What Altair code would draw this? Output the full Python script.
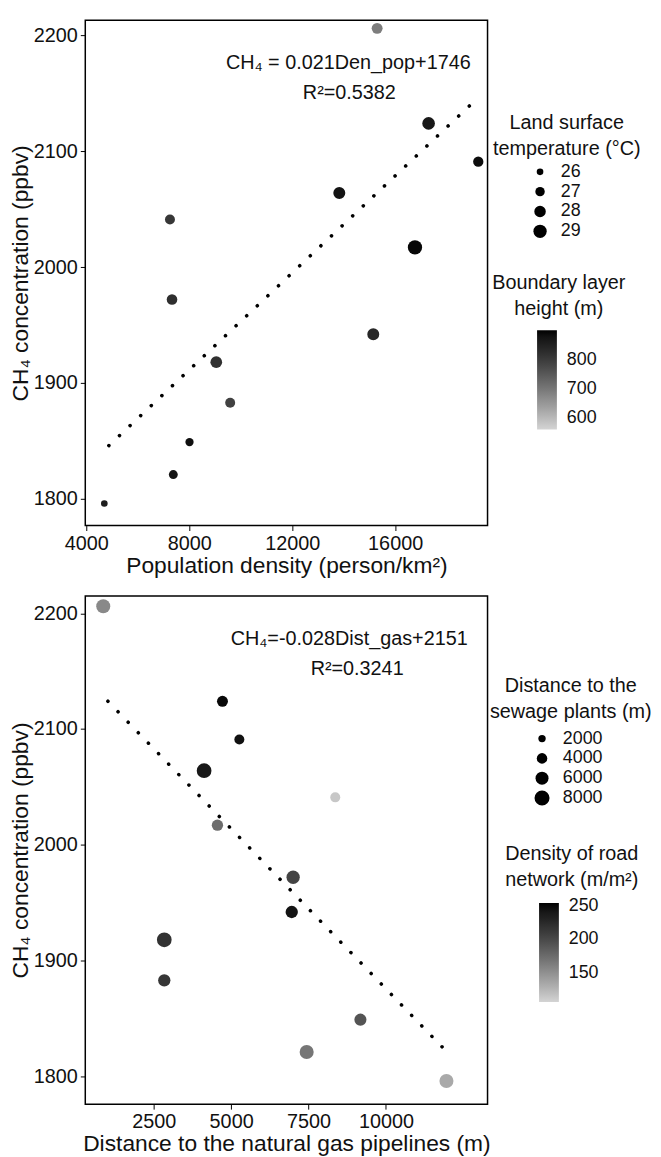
import altair as alt
import pandas as pd

# ---- data (13 sites, same CH4 values in both panels) ----
ch4 = [2206, 2124, 2091, 2064, 2017, 2041, 1972, 1942, 1918, 1883, 1849, 1821, 1796]
pop_density = [15300, 17300, 19230, 13830, 16770, 7250, 7330, 15150, 9050, 9590, 8010, 7380, 4700]
land_temp = [27.7, 28.6, 27.4, 28.25, 29.6, 27.25, 27.55, 28.25, 28.1, 27.25, 26.55, 26.8, 26.0]
blh = [690, 870, 890, 880, 895, 810, 824, 840, 820, 792, 885, 875, 860]

dist_gas = [870, 4720, 5265, 4127, 4558, 8362, 7002, 6957, 2841, 2841, 9175, 7439, 11953]
dist_sewage = [7000, 4300, 3600, 7700, 4600, 3600, 6300, 5400, 7700, 5400, 5200, 7000, 7000]
road_density = [155, 250, 245, 240, 174, 115, 204, 243, 218, 215, 192, 168, 134]

fit1_x = [4875, 19070]
fit1_y = [1846, 2143]
fit2_x = [1020, 11830]
fit2_y = [2124, 1825]

eq1_lines = ["CH\u2084 = 0.021Den_pop+1746", "R\u00b2=0.5382"]
eq1_x = [14180, 14220]
eq1_y = [2176, 2150]
eq2_lines = ["CH\u2084=-0.028Dist_gas+2151", "R\u00b2=0.3241"]
eq2_x = [8812, 9069]
eq2_y = [2178, 2152]

y_ticks = [1800, 1900, 2000, 2100, 2200]
x1_ticks = [4000, 8000, 12000, 16000]
x2_ticks = [2500, 5000, 7500, 10000]
temp_ticks = [26, 27, 28, 29]
blh_ticks = [600, 700, 800]
sew_ticks = [2000, 4000, 6000, 8000]
road_ticks = [150, 200, 250]

FONT = "Liberation Sans"
W = 406

top_df = pd.DataFrame({"x": pop_density, "ch4": ch4, "temp": land_temp, "blh": blh})
bot_df = pd.DataFrame({"x": dist_gas, "ch4": ch4, "sew": dist_sewage, "road": road_density})


def panel(df, height, xdom, ydom, xticks, xtitle, fx, fy, eqx, eqy, eqlines,
          size_field, size_dom, size_rng, size_vals, size_leg_xy,
          col_field, col_dom, col_vals, col_leg_xy, titles):
    xs = alt.Scale(domain=xdom, nice=False, zero=False)
    ys = alt.Scale(domain=ydom, nice=False, zero=False)
    xax = alt.Axis(values=xticks, title=xtitle, format="d")
    yax = alt.Axis(values=y_ticks, title="CH\u2084 concentration (ppbv)", format="d")

    line = alt.Chart(pd.DataFrame({"x": fx, "y": fy})).mark_line(
        color="black", strokeWidth=3.6, strokeDash=[0.1, 14.6], strokeCap="round"
    ).encode(x=alt.X("x:Q", scale=xs, axis=xax), y=alt.Y("y:Q", scale=ys, axis=yax))

    pts = alt.Chart(df).mark_circle(opacity=1, strokeWidth=0).encode(
        x=alt.X("x:Q", scale=xs, axis=xax),
        y=alt.Y("ch4:Q", scale=ys, axis=yax),
        size=alt.Size(f"{size_field}:Q",
                      scale=alt.Scale(domain=size_dom, range=size_rng, zero=False),
                      legend=alt.Legend(title=None, orient="none", format="d",
                                        legendX=size_leg_xy[0], legendY=size_leg_xy[1],
                                        values=size_vals, symbolType="circle",
                                        symbolFillColor="black", symbolStrokeWidth=0,
                                        labelFontSize=18, labelFont=FONT, labelColor="#111",
                                        labelOffset=12, rowPadding=2, padding=0)),
        color=alt.Color(f"{col_field}:Q",
                        scale=alt.Scale(domain=col_dom, range=["#d4d4d4", "#000000"]),
                        legend=alt.Legend(title=None, orient="none", format="d",
                                          legendX=col_leg_xy[0], legendY=col_leg_xy[1],
                                          values=col_vals, direction="vertical",
                                          gradientLength=100, gradientThickness=20,
                                          gradientStrokeWidth=0,
                                          labelFontSize=18, labelFont=FONT, labelColor="#111",
                                          labelOffset=10, padding=0)),
    )

    eq = alt.Chart(pd.DataFrame({"x": eqx, "y": eqy, "t": eqlines})).mark_text(
        font=FONT, fontSize=20, color="#111", align="center", baseline="middle"
    ).encode(x=alt.X("x:Q", scale=xs, axis=xax), y=alt.Y("y:Q", scale=ys, axis=yax), text="t:N")

    layers = [line, pts, eq]
    for (tx, ty, txt) in titles:
        layers.append(
            alt.Chart(pd.DataFrame({"t": [txt]})).mark_text(
                font=FONT, fontSize=20, color="#111", align="center", baseline="middle",
                lineBreak="\n", lineHeight=26
            ).encode(text="t:N", x=alt.value(tx), y=alt.value(ty))
        )
    return alt.layer(*layers).properties(width=W, height=height)


top = panel(top_df, 510, [3960, 19590], [1777, 2213], x1_ticks,
            "Population density (person/km\u00b2)",
            fit1_x, fit1_y, eq1_x, eq1_y, eq1_lines,
            "temp", [26, 29], [45, 180], temp_ticks, (450, 144),
            "blh", [559, 903], blh_ticks, (456, 313),
            [(486, 104, "Land surface\ntemperature (\u00b0C)"),
             (478, 265, "Boundary layer\nheight (m)")])

bot = panel(bot_df, 513, [290, 13280], [1776, 2215], x2_ticks,
            "Distance to the natural gas pipelines (m)",
            fit2_x, fit2_y, eq2_x, eq2_y, eq2_lines,
            "sew", [2000, 8000], [55, 230], sew_ticks, (452, 135),
            "road", [107, 254], road_ticks, (458, 310),
            [(490, 91, "Distance to the\nsewage plants (m)"),
             (491, 261, "Density of road\nnetwork (m/m\u00b2)")])

chart = alt.vconcat(top, bot, spacing=17).resolve_scale(
    x="independent", y="independent", color="independent", size="independent"
).resolve_legend(color="independent", size="independent").properties(
    padding={"left": 0, "top": 6, "right": 0, "bottom": 0}
).configure_view(stroke="black", strokeWidth=1.5).configure_axis(
    labelFont=FONT, titleFont=FONT, labelFontSize=20, titleFontSize=23,
    labelColor="#111", titleColor="#111", titleFontWeight="normal",
    tickColor="black", tickSize=5, tickWidth=1, domain=False, grid=False,
    labelPadding=3, titlePadding=1
).configure_legend(labelFont=FONT)

chart.save("out.html", embed_options={"renderer": "svg", "actions": False})
